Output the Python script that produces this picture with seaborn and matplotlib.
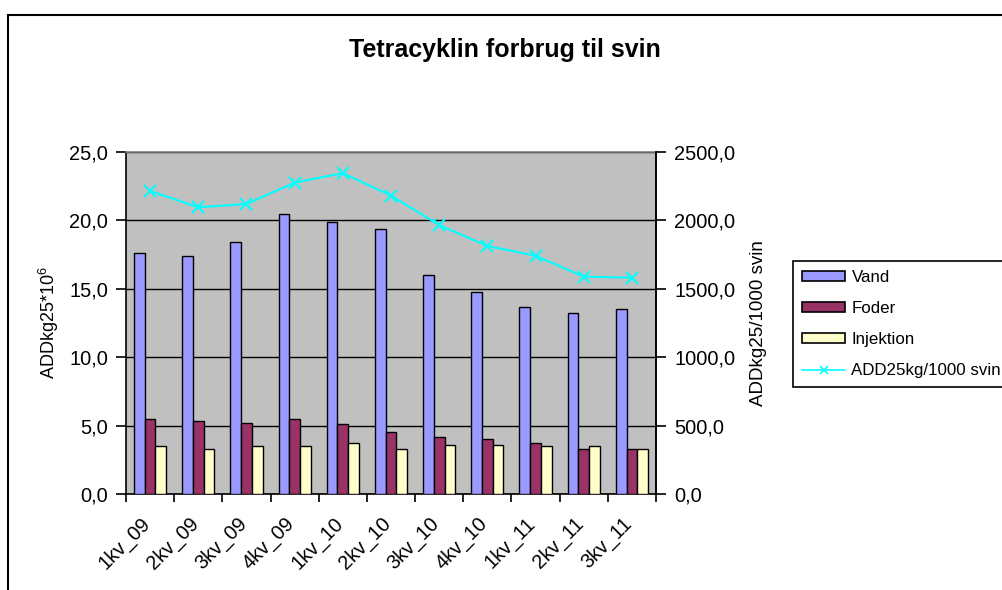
import numpy as np
import pandas as pd
import matplotlib
matplotlib.use("Agg")
import matplotlib.pyplot as plt
from matplotlib.patches import Patch, Rectangle
from matplotlib.lines import Line2D
from matplotlib.ticker import FuncFormatter
import seaborn as sns

# data
kvartaler = ['1kv_09', '2kv_09', '3kv_09', '4kv_09', '1kv_10', '2kv_10',
             '3kv_10', '4kv_10', '1kv_11', '2kv_11', '3kv_11']
vand = [17.6, 17.4, 18.4, 20.5, 19.9, 19.4, 16.0, 14.8, 13.7, 13.2, 13.5]
foder = [5.5, 5.3, 5.2, 5.5, 5.1, 4.5, 4.2, 4.0, 3.7, 3.3, 3.3]
injektion = [3.5, 3.3, 3.5, 3.5, 3.7, 3.3, 3.6, 3.6, 3.5, 3.5, 3.3]
add25_per_1000 = [2215, 2096, 2120, 2276, 2346, 2181, 1966, 1813, 1742, 1589, 1581]

serier = ['Vand', 'Foder', 'Injektion']
farver = ['#9999FF', '#993366', '#FFFFCC']
linje_farve = '#00FFFF'

df = pd.DataFrame({
    'kvartal': kvartaler * 3,
    'ADD': vand + foder + injektion,
    'type': np.repeat(serier, len(kvartaler)),
})

sns.set_style("white")
plt.rcParams['font.family'] = ['Liberation Sans', 'DejaVu Sans']
plt.rcParams['mathtext.fontset'] = 'custom'
plt.rcParams['mathtext.rm'] = 'Liberation Sans'
plt.rcParams['mathtext.default'] = 'regular'
for key in ['text.color', 'axes.labelcolor', 'xtick.color', 'ytick.color']:
    plt.rcParams[key] = 'black'

W, H = 1002, 590
fig = plt.figure(figsize=(W / 100, H / 100), dpi=100)
fig.patch.set_facecolor('white')

L, R, T, B = 126, 656, 152, 494
ax = fig.add_axes([L / W, 1 - B / H, (R - L) / W, (B - T) / H])
ax.set_facecolor('#C0C0C0')

sns.barplot(data=df, x='kvartal', y='ADD', hue='type', hue_order=serier,
            palette=farver, saturation=1, edgecolor='black', linewidth=1,
            width=2 / 3, legend=False, ax=ax, zorder=3)

ax.set_xlim(-0.5, len(kvartaler) - 0.5)
ax.set_ylim(0, 25)
ax.set_yticks(np.arange(0, 25.1, 5))
ax.yaxis.set_major_formatter(FuncFormatter(lambda v, p: f"{v:.1f}".replace('.', ',')))
ax.grid(axis='y', color='black', linewidth=1, zorder=1)
ax.set_axisbelow(True)

for side in ['left', 'bottom', 'right']:
    ax.spines[side].set_color('black')
    ax.spines[side].set_linewidth(1.2)
ax.spines['top'].set_color('#808080')
ax.spines['top'].set_linewidth(1.2)

# tick marks between categories; rotated labels sit a bit left of centre, as in Excel
ax.set_xticks(np.arange(-0.5, len(kvartaler), 1), minor=True)
ax.tick_params(axis='x', which='minor', length=6, width=1.2, direction='out', bottom=True)
ax.tick_params(axis='x', which='major', length=0, pad=14.5, labelsize=14.4)
ax.set_xticks(np.arange(len(kvartaler)) - 0.2)
ax.set_xticklabels(kvartaler, rotation=45, ha='right', va='top', rotation_mode='anchor')
ax.tick_params(axis='y', length=7, width=1.2, direction='out', left=True, pad=6, labelsize=14.4)
ax.set_xlabel('')
ax.set_ylabel('ADDkg25*10$^6$', fontsize=13)
ax.yaxis.set_label_coords(-0.123, 0.5)

ax2 = ax.twinx()
sns.lineplot(x=np.arange(len(kvartaler)), y=add25_per_1000, ax=ax2, color=linje_farve,
             marker='x', markersize=8, markeredgewidth=1.5, markeredgecolor=linje_farve,
             linewidth=1.5, zorder=4)
ax2.set_ylim(0, 2500)
ax2.set_yticks(np.arange(0, 2501, 500))
ax2.yaxis.set_major_formatter(FuncFormatter(lambda v, p: f"{v:.1f}".replace('.', ',')))
ax2.tick_params(axis='y', length=7, width=1.2, direction='out', right=True, pad=6, labelsize=14.4)
ax2.set_ylabel('ADDkg25/1000 svin', fontsize=13.5)
ax2.yaxis.set_label_coords(1.178, 0.5)
for s in ax2.spines.values():
    s.set_visible(False)
ax2.spines['right'].set_visible(True)
ax2.spines['right'].set_color('black')
ax2.spines['right'].set_linewidth(1.2)

fig.text(505 / W, 1 - 50 / H, 'Tetracyklin forbrug til svin', ha='center', va='center',
         fontsize=18, fontweight='bold')

handles = [Patch(facecolor=c, edgecolor='black', linewidth=1.2) for c in farver]
handles.append(Line2D([], [], color=linje_farve, marker='x', markersize=6,
                      markeredgewidth=1.2, linewidth=1.2))
leg = fig.legend(handles, serier + ['ADD25kg/1000 svin'], loc='upper left',
                 bbox_to_anchor=(793 / W, 1 - 261 / H), fontsize=12.2, frameon=True,
                 fancybox=False, edgecolor='black', framealpha=1, borderpad=0.55,
                 handlelength=2.5, handleheight=0.55, handletextpad=0.4,
                 labelspacing=0.94, borderaxespad=0)
leg.get_frame().set_linewidth(1.2)

# outer chart border (cut at right and bottom)
fig.add_artist(Rectangle((8 / W, -0.1), 1.2, 1 - 15 / H + 0.1, transform=fig.transFigure,
                         fill=False, edgecolor='black', linewidth=1.5))

fig.savefig('out.png', dpi=100)
